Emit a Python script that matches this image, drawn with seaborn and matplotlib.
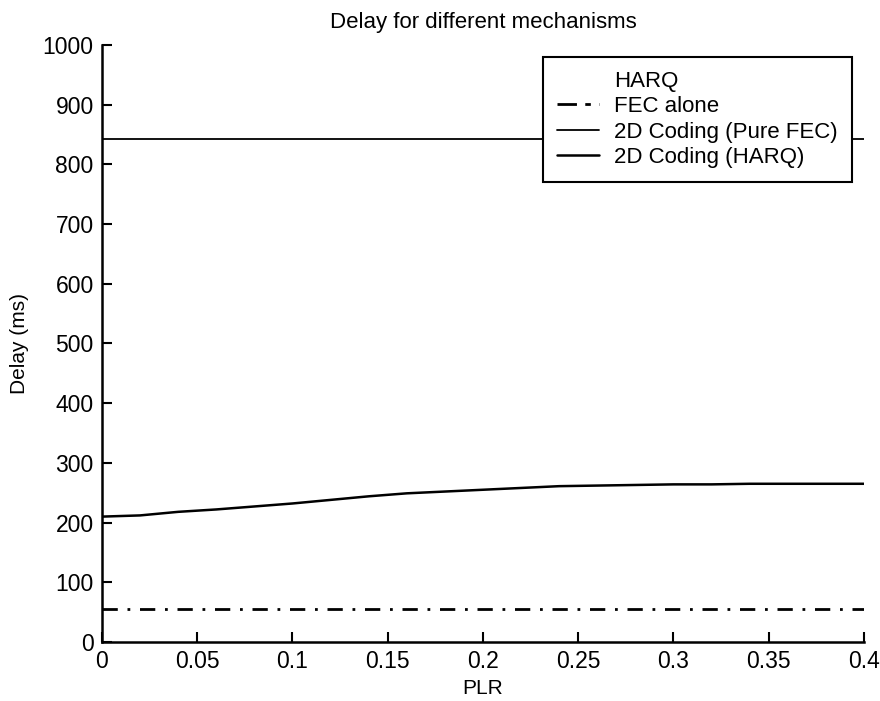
import numpy as np
import pandas as pd
import matplotlib
matplotlib.use("Agg")
import matplotlib.pyplot as plt
import seaborn as sns
from matplotlib.lines import Line2D

sns.set_theme(style="ticks")
plt.rcParams["font.family"] = ["Liberation Sans", "DejaVu Sans"]
plt.rcParams["text.color"] = "black"
plt.rcParams["axes.labelcolor"] = "black"

# Packet loss rate grid and delay per mechanism (ms)
plr = [0.0, 0.02, 0.04, 0.06, 0.08, 0.10, 0.12, 0.14, 0.16, 0.18, 0.20,
       0.22, 0.24, 0.26, 0.28, 0.30, 0.32, 0.34, 0.36, 0.38, 0.40]
fec_alone = [55] * len(plr)
coding_pure_fec = [842] * len(plr)
coding_harq = [210, 212, 218, 222, 227, 232, 238, 244, 249, 252, 255,
               258, 261, 262, 263, 264, 264, 265, 265, 265, 265]
series_labels = ["HARQ", "FEC alone", "2D Coding (Pure FEC)", "2D Coding (HARQ)"]
x_ticks = [0, 0.05, 0.1, 0.15, 0.2, 0.25, 0.3, 0.35, 0.4]
y_ticks = [0, 100, 200, 300, 400, 500, 600, 700, 800, 900, 1000]

df = pd.DataFrame({
    "PLR": plr,
    "fec": fec_alone,
    "pure": coding_pure_fec,
    "harq2d": coding_harq,
})

fig = plt.figure(figsize=(8.8, 7.01), dpi=100)
ax = fig.add_axes([0.1159, 0.0842, 0.8659, 0.8516])

dashdot = (0, (5.5, 3.5, 1, 3.5))
sns.lineplot(data=df, x="PLR", y="fec", ax=ax, color="black", lw=2.0,
             linestyle=dashdot)
sns.lineplot(data=df, x="PLR", y="pure", ax=ax, color="black", lw=1.3)
sns.lineplot(data=df, x="PLR", y="harq2d", ax=ax, color="black", lw=1.8)

ax.set_xlim(0, 0.4)
ax.set_ylim(0, 1000)
ax.set_xticks(x_ticks)
ax.set_xticklabels([f"{t:g}" for t in x_ticks])
ax.set_yticks(y_ticks)
ax.set_yticklabels([str(t) for t in y_ticks])
ax.tick_params(direction="in", length=7, width=1.5, labelsize=16.5, pad=6,
               colors="black")
for side in ("top", "right"):
    ax.spines[side].set_visible(False)
for side in ("left", "bottom"):
    ax.spines[side].set_linewidth(1.8)
    ax.spines[side].set_color("black")

ax.set_title("Delay for different mechanisms", fontsize=16, pad=12,
             color="black")
ax.set_xlabel("PLR", fontsize=15, labelpad=4)
ax.set_ylabel("Delay (ms)", fontsize=15, labelpad=10)

handles = [
    Line2D([], [], linestyle="none"),
    Line2D([], [], color="black", lw=2.0, linestyle=(0, (7, 3, 2, 3))),
    Line2D([], [], color="black", lw=1.3),
    Line2D([], [], color="black", lw=1.8),
]
leg = ax.legend(handles, series_labels, loc="upper right",
                bbox_to_anchor=(0.984, 0.980), fontsize=16, frameon=True,
                fancybox=False, framealpha=1, edgecolor="black",
                handlelength=1.9, handletextpad=0.7, borderpad=0.62,
                labelspacing=0.2, borderaxespad=0)
leg.get_frame().set_linewidth(1.5)
for txt in leg.get_texts():
    txt.set_color("black")

fig.savefig("out.png", dpi=100, facecolor="white")
